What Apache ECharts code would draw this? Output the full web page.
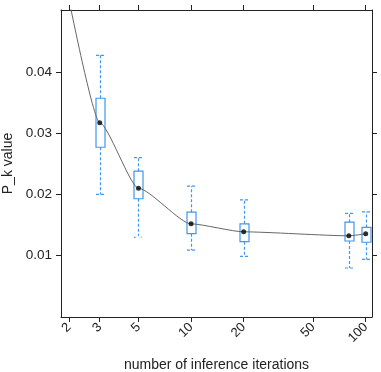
<!DOCTYPE html>
<html><head><meta charset="utf-8">
<script src="https://cdn.jsdelivr.net/npm/echarts@6/dist/echarts.min.js"></script>
<style>html,body{margin:0;padding:0;background:#fff}#c{width:381px;height:372px}</style>
</head><body><div id="c"></div>
<script>
// ---- data ----
const iterations  = [3, 5, 10, 20, 80, 100];
const whiskerLow  = [0.0200, 0.0130, 0.0109, 0.0099, 0.0080, 0.0094];
const q1          = [0.0277, 0.0193, 0.0136, 0.0123, 0.0124, 0.0122];
const medians     = [0.0317, 0.0210, 0.0152, 0.0139, 0.01325, 0.01357];
const q3          = [0.0357, 0.0238, 0.0171, 0.0152, 0.01548, 0.01462];
const whiskerHigh = [0.0427, 0.0260, 0.02135, 0.0191, 0.0169, 0.01716];
const outlierX    = [5, 20, 80];
const outlierY    = [0.0127, 0.0200, 0.0072];
const fitX        = [2, 3, 5, 10, 20, 80, 100];
const fitY        = [0.0518, 0.0317, 0.0210, 0.0152, 0.0139, 0.01325, 0.01357];
const xTicks      = [2, 3, 5, 10, 20, 50, 100];
const yTicks      = [0.01, 0.02, 0.03, 0.04];

const BLUE = '#3f97ee';
const FONT = 'Liberation Sans, Arial, sans-serif';
const chart = echarts.init(document.getElementById('c'), null, {renderer: 'canvas'});

const xBase = {
  type: 'log', logBase: 10, min: 1.8, max: 108.6,
  axisLine: {show: true, onZero: false, lineStyle: {color: '#222', width: 1}},
  axisTick: {show: true, customValues: xTicks, inside: false, length: 5, lineStyle: {color: '#222'}},
  splitLine: {show: false}, minorTick: {show: false}
};
const yBase = {
  type: 'value', min: 0, max: 0.0501,
  axisLine: {show: true, onZero: false, lineStyle: {color: '#222', width: 1}},
  axisTick: {show: true, customValues: yTicks, inside: false, length: 5, lineStyle: {color: '#222'}},
  splitLine: {show: false}
};

chart.setOption({
  animation: false,
  backgroundColor: '#fff',
  textStyle: {fontFamily: FONT},
  grid: {left: 61, right: 9, top: 10, bottom: 55, containLabel: false, outerBoundsMode: 'none'},
  xAxis: [
    Object.assign({}, xBase, {
      position: 'bottom',
      name: 'number of inference iterations', nameLocation: 'middle', nameGap: 41,
      nameTextStyle: {fontSize: 14, color: '#222', fontFamily: FONT},
      axisLabel: {show: true, customValues: xTicks, rotate: 45, margin: 8, fontSize: 13, color: '#222', fontFamily: FONT,
        formatter: v => String(Math.round(v))}
    }),
    Object.assign({}, xBase, {position: 'top', axisLabel: {show: false}})
  ],
  yAxis: [
    Object.assign({}, yBase, {
      position: 'left',
      name: 'P_k value', nameLocation: 'middle', nameGap: 45, nameRotate: 90,
      nameTextStyle: {fontSize: 14, color: '#222', fontFamily: FONT},
      axisLabel: {show: true, customValues: yTicks, margin: 9, fontSize: 13.5, color: '#222', fontFamily: FONT,
        formatter: v => v.toFixed(2)}
    }),
    Object.assign({}, yBase, {position: 'right', axisLabel: {show: false}})
  ],
  series: [
    {
      type: 'custom', xAxisIndex: 0, yAxisIndex: 0, z: 2, clip: true,
      data: iterations.map((x, i) => [x, whiskerLow[i], q1[i], q3[i], whiskerHigh[i]]),
      encode: {x: 0, y: [1, 2, 3, 4]},
      renderItem: function (params, api) {
        const x = api.value(0);
        const lo = api.coord([x, api.value(1)]);
        const a = api.coord([x, api.value(2)]);
        const b = api.coord([x, api.value(3)]);
        const hi = api.coord([x, api.value(4)]);
        const cx = Math.round(lo[0]) + 0.5;
        const w = 9, h = w / 2;
        const dash = {stroke: BLUE, lineWidth: 1.2, lineDash: [3, 2], fill: null};
        return {type: 'group', children: [
          {type: 'line', shape: {x1: cx, y1: b[1], x2: cx, y2: hi[1]}, style: dash},
          {type: 'line', shape: {x1: cx, y1: a[1], x2: cx, y2: lo[1]}, style: dash},
          {type: 'line', shape: {x1: cx - h, y1: hi[1], x2: cx + h, y2: hi[1]}, style: dash},
          {type: 'line', shape: {x1: cx - h, y1: lo[1], x2: cx + h, y2: lo[1]}, style: dash},
          {type: 'rect', shape: {x: cx - h, y: b[1], width: w, height: a[1] - b[1]},
            style: {fill: 'none', stroke: BLUE, lineWidth: 1.2}}
        ]};
      }
    },
    {
      type: 'line', xAxisIndex: 0, yAxisIndex: 0, z: 3, clip: true,
      data: fitX.map((x, i) => [x, fitY[i]]),
      smooth: 0.2, smoothMonotone: 'x', showSymbol: false, symbol: 'none',
      lineStyle: {color: '#666', width: 1}
    },
    {
      type: 'scatter', xAxisIndex: 0, yAxisIndex: 0, z: 4,
      data: outlierX.map((x, i) => [x, outlierY[i]]),
      symbol: 'emptyCircle', symbolSize: 5,
      itemStyle: {color: '#fff', borderColor: BLUE, borderWidth: 1}
    },
    {
      type: 'scatter', xAxisIndex: 0, yAxisIndex: 0, z: 5,
      data: iterations.map((x, i) => [x, medians[i]]),
      symbol: 'circle', symbolSize: 5,
      itemStyle: {color: '#000'}
    }
  ]
});
</script>
</body></html>
